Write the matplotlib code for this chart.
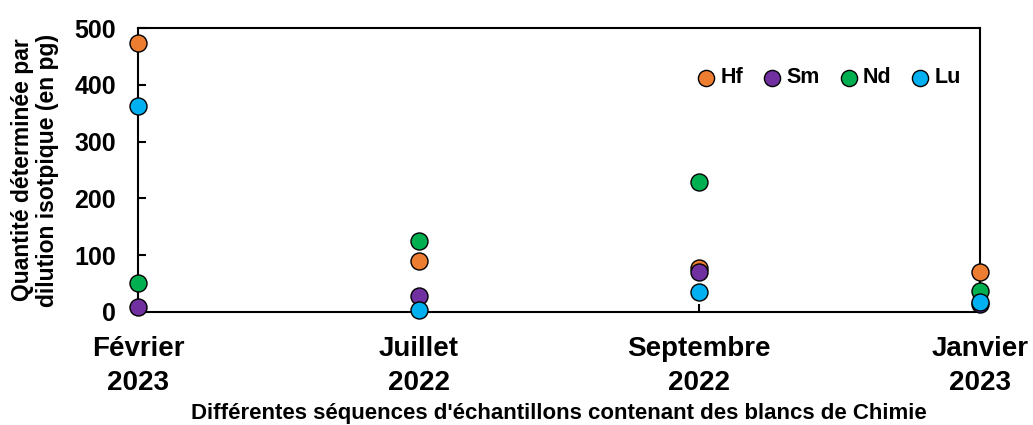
import numpy as np
import matplotlib
matplotlib.use("Agg")
import matplotlib.pyplot as plt

plt.rcParams['font.family'] = ['Liberation Sans', 'DejaVu Sans']
plt.rcParams['font.weight'] = 'bold'

sequences = ["Février\n2023", "Juillet\n2022", "Septembre\n2022", "Janvier\n2023"]
hf = [473, 90, 78, 70]
sm = [9, 28, 71, 14]
nd = [51, 125, 229, 37]
lu = [362, 4, 35, 18]

series = [("Hf", hf, "#ED7D31"), ("Sm", sm, "#7030A0"),
          ("Nd", nd, "#00B050"), ("Lu", lu, "#00B0F0")]

fig = plt.figure(figsize=(10.33, 4.25), dpi=100)
ax = fig.add_axes([0.1336, 0.266, 0.8151, 0.668])

x = np.arange(1, len(sequences) + 1)
for nom, val, coul in series:
    ax.scatter(x, val, s=150, color=coul, edgecolor="black", linewidth=1,
               label=nom, clip_on=False, zorder=3)

ax.set_xlim(1, 4)
ax.set_ylim(0, 500)
ax.set_yticks([0, 100, 200, 300, 400, 500])
ax.set_xticks(x)
ax.set_xticklabels(sequences, fontsize=20, fontweight='bold', linespacing=1.4)
ax.tick_params(axis='y', labelsize=18, direction='in', length=6, width=1.5, pad=16)
ax.tick_params(axis='x', direction='in', length=6, width=1.5, pad=17)
for lab in ax.get_yticklabels():
    lab.set_fontweight('bold')
for sp in ax.spines.values():
    sp.set_linewidth(1.5)

ax.set_ylabel("Quantité déterminée par\ndilution isotpique (en pg)", fontsize=16.5,
              fontweight='bold', labelpad=11, linespacing=1.1)
ax.set_xlabel("Différentes séquences d'échantillons contenant des blancs de Chimie",
              fontsize=16, fontweight='bold', labelpad=5)

leg = ax.legend(loc='upper right', ncol=4, frameon=False, fontsize=15.5,
                handlelength=0.9, handletextpad=0.2, columnspacing=0.9,
                markerscale=0.95, bbox_to_anchor=(1.0, 0.93))
for t in leg.get_texts():
    t.set_fontweight('bold')

fig.savefig("out.png", dpi=100)
